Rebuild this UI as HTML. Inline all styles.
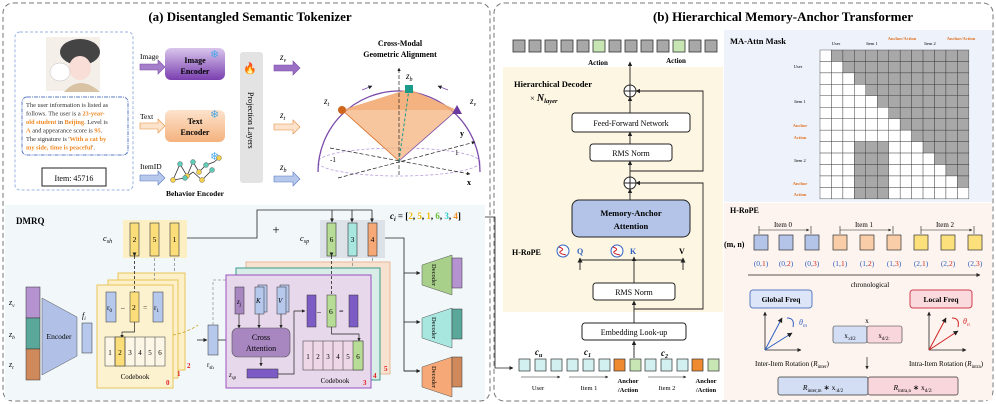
<!DOCTYPE html>
<html><head><meta charset="utf-8"><style>
body{margin:0;background:#fff}
svg{display:block;font-family:"Liberation Serif",serif}
</style></head><body>
<svg width="996" height="404" viewBox="0 0 996 404" xmlns="http://www.w3.org/2000/svg">
<defs>
<marker id="a" viewBox="0 0 10 10" refX="9" refY="5" markerWidth="5" markerHeight="5" orient="auto"><path d="M0,0L10,5L0,10z" fill="#222"/></marker>
<linearGradient id="gp" x1="0" y1="0" x2="0" y2="1"><stop offset="0" stop-color="#d9c6ec"/><stop offset="1" stop-color="#7a3fb0"/></linearGradient>
<linearGradient id="go" x1="0" y1="0" x2="0" y2="1"><stop offset="0" stop-color="#fde3cc"/><stop offset="1" stop-color="#f4b27e"/></linearGradient>
</defs>

<rect x="3" y="3" width="487" height="398" rx="10" fill="none" stroke="#777" stroke-dasharray="5,3"/>
<rect x="494" y="3" width="499" height="398" rx="10" fill="none" stroke="#777" stroke-dasharray="5,3"/>
<text x="250" y="21" font-size="13" font-weight="bold" text-anchor="middle">(a) Disentangled Semantic Tokenizer</text>
<text x="783" y="21" font-size="13" font-weight="bold" text-anchor="middle">(b) Hierarchical Memory-Anchor Transformer</text>

<rect x="15" y="32" width="118" height="158" rx="5" fill="none" stroke="#9ab3e0" stroke-dasharray="3,2"/>
<rect x="46" y="37" width="54" height="54" fill="#f4efe9"/>
<ellipse cx="80" cy="52" rx="20" ry="13" fill="#444"/>
<ellipse cx="80" cy="68" rx="11" ry="12" fill="#f8ded6"/>
<ellipse cx="60" cy="72" rx="10" ry="9" fill="#fff" stroke="#bbb" stroke-width=".5"/>
<path d="M64,92 q16,-18 36,0z" fill="#d8c3a5"/>
<rect x="22" y="97" width="106" height="58" rx="5" fill="#fff" stroke="#5b7bc4" stroke-dasharray="4,1,1,1"/>
<g font-size="6.4" fill="#333">
<text x="26" y="107">The user information is listed as</text>
<text x="26" y="115.5">follows. The user is a <tspan fill="#f08a24" font-weight="bold">23-year-</tspan></text>
<text x="26" y="124"><tspan fill="#f08a24" font-weight="bold">old student</tspan> in <tspan fill="#f08a24" font-weight="bold">Beijing</tspan>. Level is</text>
<text x="26" y="132.5"><tspan fill="#f08a24" font-weight="bold">A</tspan> and appearance score is <tspan fill="#f08a24" font-weight="bold">95</tspan>.</text>
<text x="26" y="141">The signature is '<tspan fill="#f08a24" font-weight="bold">With a cat by</tspan></text>
<text x="26" y="149.5"><tspan fill="#f08a24" font-weight="bold">my side, time is peaceful</tspan>'.</text>
</g>
<rect x="42" y="168" width="64" height="18" fill="#fff" stroke="#222"/>
<text x="74" y="181" font-size="8" text-anchor="middle">Item: 45716</text>

<g font-size="7.5">
<text x="140" y="59">Image</text><text x="140" y="119">Text</text><text x="140" y="169">ItemID</text>
</g>
<path d="M140,64h18v-4l7,7l-7,7v-4h-18z" fill="#a47ec9" stroke="#7a4aa8" stroke-width=".6"/>
<path d="M140,123h18v-4l7,7l-7,7v-4h-18z" fill="#fde3cc" stroke="#e58c3c" stroke-width=".6"/>
<path d="M140,175h18v-4l7,7l-7,7v-4h-18z" fill="#b6c8ec" stroke="#5878be" stroke-width=".6"/>
<rect x="165" y="48" width="60" height="32" rx="6" fill="url(#gp)"/>
<text x="195" y="63" font-size="8" font-weight="bold" text-anchor="middle">Image</text>
<text x="195" y="74" font-size="8" font-weight="bold" text-anchor="middle">Encoder</text>
<rect x="165" y="110" width="60" height="32" rx="6" fill="url(#go)"/>
<text x="195" y="124" font-size="8" font-weight="bold" text-anchor="middle">Text</text>
<text x="195" y="135" font-size="8" font-weight="bold" text-anchor="middle">Encoder</text>
<g font-size="11" fill="#4aa8e8"><text x="210" y="58">❄</text><text x="210" y="118">❄</text><text x="210" y="160">❄</text></g>
<polyline points="173,180 180,164 187,176 193,162 199,172 206,165 214,162 219,158" fill="none" stroke="#333" stroke-width=".8"/>
<polyline points="173,180 185,178 193,172 202,180 212,170" fill="none" stroke="#333" stroke-width=".8"/>
<g fill="#f5d04a" stroke="#555" stroke-width=".4"><circle cx="173" cy="180" r="2.5"/><circle cx="187" cy="176" r="2.5"/><circle cx="199" cy="172" r="2.5"/><circle cx="202" cy="180" r="2.5"/><circle cx="219" cy="158" r="2.5"/></g>
<g fill="#5fcbb6" stroke="#555" stroke-width=".4"><circle cx="180" cy="164" r="2.5"/><circle cx="193" cy="162" r="2.5"/><circle cx="206" cy="165" r="2.5"/><circle cx="185" cy="178" r="2.5"/><circle cx="212" cy="170" r="2.5"/></g>
<text x="195" y="196" font-size="7.5" font-weight="bold" text-anchor="middle">Behavior Encoder</text>

<rect x="240" y="52" width="23" height="131" rx="3" fill="#e3e3e3"/>
<text x="250" y="72" font-size="11" fill="#e23" text-anchor="middle">🔥</text>
<text transform="translate(248,92) rotate(90)" font-size="8">Projection    Layers</text>

<g font-size="9" font-style="italic"><text x="280" y="60">z<tspan font-size="6" dy="2">v</tspan></text><text x="280" y="118">z<tspan font-size="6" dy="2">t</tspan></text><text x="280" y="170">z<tspan font-size="6" dy="2">b</tspan></text></g>
<path d="M274,65h19v-4l7,7l-7,7v-4h-19z" fill="#9b6fc6" stroke="#7a4aa8" stroke-width=".6"/>
<path d="M274,124h19v-4l7,7l-7,7v-4h-19z" fill="#fde3cc" stroke="#e58c3c" stroke-width=".6"/>
<path d="M274,176h19v-4l7,7l-7,7v-4h-19z" fill="#b6c8ec" stroke="#5878be" stroke-width=".6"/>

<text x="400" y="46" font-size="8" font-weight="bold" text-anchor="middle">Cross-Modal</text>
<text x="400" y="57" font-size="8" font-weight="bold" text-anchor="middle">Geometric Alignment</text>
<ellipse cx="399" cy="162" rx="81" ry="14" fill="none" stroke="#b79bdc" stroke-dasharray="3,2" stroke-width=".8"/>
<path d="M318,172 A81,81 0 0 1 480,172" fill="none" stroke="#7a4aa8" stroke-width="1.3"/>
<polygon points="342,110 409,89 457,110 399,161" fill="#f4b27e" fill-opacity=".75"/>
<polygon points="342,110 409,89 457,110" fill="#f0a060" fill-opacity=".5"/>
<line x1="342" y1="110" x2="399" y2="161" stroke="#d96a20" stroke-width=".8"/>
<line x1="457" y1="110" x2="399" y2="161" stroke="#7a4aa8" stroke-width=".8"/>
<line x1="399" y1="175" x2="399" y2="68" stroke="#222" stroke-width=".7" stroke-dasharray="4,2" marker-end="url(#a)"/>
<line x1="330" y1="148" x2="470" y2="174" stroke="#222" stroke-width=".7" stroke-dasharray="4,2" marker-end="url(#a)"/>
<line x1="338" y1="178" x2="475" y2="142" stroke="#222" stroke-width=".7" stroke-dasharray="4,2" marker-end="url(#a)"/>
<line x1="399" y1="161" x2="409" y2="89" stroke="#1a9a88" stroke-width="1" stroke-dasharray="3,2"/>
<circle cx="342" cy="110" r="4" fill="#d0651c"/>
<rect x="405" y="85" width="8" height="8" fill="#1a9a88"/>
<path d="M457,105l5,9h-10z" fill="#6a3aa0"/>
<g font-size="9" font-style="italic"><text x="324" y="104">z<tspan font-size="6" dy="2">t</tspan></text><text x="470" y="104">z<tspan font-size="6" dy="2">v</tspan></text><text x="406" y="79">z<tspan font-size="6" dy="2">b</tspan></text></g>
<g font-size="8" font-weight="bold"><text x="460" y="136">y</text><text x="467" y="185">x</text></g>
<g font-size="7"><text x="330" y="162">-1</text><text x="455" y="155">1</text></g>
<path d="M362,90 l10,-4" stroke="#7a4aa8" stroke-width=".8" marker-end="url(#a)"/>
<path d="M448,90 l-10,-4" stroke="#7a4aa8" stroke-width=".8" marker-end="url(#a)"/>

<rect x="5" y="205" width="480" height="195" fill="#f2f8fa"/>
<text x="16" y="224" font-size="9" font-weight="bold">DMRQ</text>
<rect x="123" y="220" width="64" height="38" fill="#fdefc4"/>
<g fill="#fbdd7a" stroke="#333" stroke-width=".6"><rect x="130" y="223" width="9" height="33"/><rect x="150" y="223" width="9" height="33"/><rect x="170" y="223" width="9" height="33"/></g>
<g font-size="7.5" text-anchor="middle"><text x="134.5" y="242">2</text><text x="154.5" y="242">5</text><text x="174.5" y="242">1</text></g>
<text x="103" y="241" font-size="8.5" font-style="italic">c<tspan font-size="6" dy="2">sh</tspan></text>
<text x="276" y="234" font-size="13" text-anchor="middle">+</text>
<rect x="320" y="220" width="65" height="38" fill="#dde2e8"/>
<rect x="327" y="223" width="9" height="33" fill="#b6dc96" stroke="#333" stroke-width=".6"/>
<rect x="348" y="223" width="9" height="33" fill="#a8e6e0" stroke="#333" stroke-width=".6"/>
<rect x="368" y="223" width="9" height="33" fill="#f6a976" stroke="#333" stroke-width=".6"/>
<g font-size="7.5" text-anchor="middle"><text x="331.5" y="242">6</text><text x="352.5" y="242">3</text><text x="372.5" y="242">4</text></g>
<text x="300" y="241" font-size="8.5" font-style="italic">c<tspan font-size="6" dy="2">sp</tspan></text>
<polyline points="187,238 257,238 257,210 372,210" fill="none" stroke="#222" stroke-width=".8"/>
<line x1="332" y1="210" x2="332" y2="222" stroke="#222" stroke-width=".8" marker-end="url(#a)"/>
<line x1="352" y1="210" x2="352" y2="222" stroke="#222" stroke-width=".8" marker-end="url(#a)"/>
<line x1="372" y1="210" x2="372" y2="222" stroke="#222" stroke-width=".8" marker-end="url(#a)"/>
<text x="390" y="219" font-size="9" font-weight="bold"><tspan font-style="italic">c<tspan font-size="6" dy="2">i</tspan></tspan><tspan dy="-2"> = [</tspan><tspan fill="#f0b800">2</tspan>, <tspan fill="#f0b800">5</tspan>, <tspan fill="#f0b800">1</tspan>, <tspan fill="#6bbf3a">6</tspan>, <tspan fill="#3cc">3</tspan>, <tspan fill="#f08a24">4</tspan>]</text>
<polyline points="485,217 495,217 495,368 513,368" fill="none" stroke="#222" stroke-width=".8" marker-end="url(#a)"/>
<polyline points="385,238 404,238 404,371 420,371" fill="none" stroke="#222" stroke-width=".8"/>
<line x1="404" y1="273" x2="420" y2="273" stroke="#222" stroke-width=".8" marker-end="url(#a)"/>
<line x1="404" y1="322" x2="420" y2="322" stroke="#222" stroke-width=".8" marker-end="url(#a)"/>
<line x1="404" y1="371" x2="420" y2="371" stroke="#222" stroke-width=".8" marker-end="url(#a)"/>

<rect x="26" y="287" width="14" height="31" fill="#b592d0" stroke="#333" stroke-width=".5"/>
<rect x="26" y="318" width="14" height="31" fill="#5aa89a" stroke="#333" stroke-width=".5"/>
<rect x="26" y="349" width="14" height="31" fill="#d0895a" stroke="#333" stroke-width=".5"/>
<g font-size="8" font-style="italic"><text x="9" y="305">z<tspan font-size="5.5" dy="2">v</tspan></text><text x="9" y="337">z<tspan font-size="5.5" dy="2">b</tspan></text><text x="9" y="367">z<tspan font-size="5.5" dy="2">t</tspan></text></g>
<polygon points="42,298 77,317 77,356 42,375" fill="#b0c0e6" stroke="#555" stroke-width=".5"/>
<text x="59" y="339" font-size="7.5" text-anchor="middle">Encoder</text>
<text x="82" y="318" font-size="8" font-style="italic">f<tspan font-size="5.5" dy="2">i</tspan></text>
<rect x="82" y="323" width="10" height="30" fill="#b6c8ec" stroke="#333" stroke-width=".5"/>

<rect x="118" y="273" width="67" height="97" fill="#fdf0c8" stroke="#e8c45a"/>
<rect x="108" y="280" width="70" height="98" fill="#fdf0c8" stroke="#e8c45a"/>
<rect x="97" y="285" width="76" height="103" fill="#fdf2d0" stroke="#e8c45a"/>
<g font-size="7" font-weight="bold" fill="#e02020"><text x="166" y="385">0</text><text x="177" y="376">1</text><text x="187" y="368">2</text></g>
<rect x="106" y="292" width="10" height="30" fill="#b6c8ec" stroke="#333" stroke-width=".5"/>
<rect x="130" y="292" width="9" height="30" fill="#fbdd7a" stroke="#333" stroke-width=".5"/>
<rect x="153" y="292" width="10" height="30" fill="#b6c8ec" stroke="#333" stroke-width=".5"/>
<g font-size="7.5"><text x="107" y="310">r<tspan font-size="5" dy="2">0</tspan></text><text x="121" y="310">–</text><text x="132" y="310">2</text><text x="143" y="310">=</text><text x="154" y="310">r<tspan font-size="5" dy="2">1</tspan></text></g>
<line x1="134.5" y1="256" x2="134.5" y2="292" stroke="#222" stroke-width=".8" stroke-dasharray="3,2" marker-start="url(#a)"/>
<line x1="154.5" y1="258" x2="154.5" y2="280" stroke="#888" stroke-width=".8" stroke-dasharray="3,2"/>
<line x1="174.5" y1="258" x2="174.5" y2="273" stroke="#888" stroke-width=".8" stroke-dasharray="3,2"/>
<polyline points="134.5,322 134.5,332 122,332 122,338" fill="none" stroke="#222" stroke-width=".7" marker-end="url(#a)"/>
<g stroke="#333" stroke-width=".5"><rect x="105" y="337" width="60" height="29" fill="#fbf6e6"/><rect x="115" y="337" width="10" height="29" fill="#fbdd7a"/></g>
<g stroke="#333" stroke-width=".5"><line x1="115" y1="337" x2="115" y2="366"/><line x1="125" y1="337" x2="125" y2="366"/><line x1="135" y1="337" x2="135" y2="366"/><line x1="145" y1="337" x2="145" y2="366"/><line x1="155" y1="337" x2="155" y2="366"/></g>
<g font-size="7" text-anchor="middle"><text x="110" y="355">1</text><text x="120" y="355">2</text><text x="130" y="355">3</text><text x="140" y="355">4</text><text x="150" y="355">5</text><text x="160" y="355">6</text></g>
<text x="135" y="379" font-size="7" text-anchor="middle">Codebook</text>
<path d="M173,335 q15,-3 25,-10" fill="none" stroke="#c8a020" stroke-dasharray="3,2" stroke-width=".8"/>
<line x1="197" y1="340" x2="207" y2="340" stroke="#222" stroke-width=".8" marker-end="url(#a)"/>
<rect x="208" y="325" width="10" height="30" fill="#b6c8ec" stroke="#333" stroke-width=".5"/>
<text x="207" y="367" font-size="7">r<tspan font-size="5" dy="2">sh</tspan></text>
<polyline points="213,325 213,280 283,280 283,285" fill="none" stroke="#999" stroke-dasharray="3,2" stroke-width=".8"/>
<line x1="218" y1="340" x2="231" y2="340" stroke="#222" stroke-width=".8" marker-end="url(#a)"/>

<rect x="246" y="262" width="144" height="112" fill="#f6e2cf" stroke="#e8b898"/>
<rect x="236" y="268" width="144" height="112" fill="#d8ece8" stroke="#3a9a8a"/>
<rect x="226" y="275" width="145" height="113" fill="#e8d8ec" stroke="#9a50c0"/>
<g font-size="7" font-weight="bold" fill="#e02020"><text x="363" y="385">3</text><text x="373" y="378">4</text><text x="384" y="371">5</text></g>
<rect x="235" y="287" width="9" height="27" fill="#a886c0" stroke="#333" stroke-width=".5"/>
<text x="237" y="304" font-size="7" font-style="italic">z<tspan font-size="5" dy="2">j</tspan></text>
<rect x="258" y="285" width="9" height="27" fill="#b6c8ec" stroke="#333" stroke-width=".5"/>
<rect x="255" y="287" width="9" height="27" fill="#b6c8ec" stroke="#333" stroke-width=".5"/>
<rect x="280" y="285" width="9" height="27" fill="#b6c8ec" stroke="#333" stroke-width=".5"/>
<rect x="277" y="287" width="9" height="27" fill="#b6c8ec" stroke="#333" stroke-width=".5"/>
<text x="256" y="303" font-size="7" font-style="italic">K</text><text x="278" y="303" font-size="7" font-style="italic">V</text>
<line x1="239" y1="314" x2="239" y2="328" stroke="#222" stroke-width=".7" marker-end="url(#a)"/>
<line x1="259" y1="314" x2="259" y2="328" stroke="#222" stroke-width=".7" marker-end="url(#a)"/>
<line x1="281" y1="314" x2="281" y2="328" stroke="#222" stroke-width=".7" marker-end="url(#a)"/>
<rect x="232" y="328" width="58" height="29" rx="6" fill="#a886c0" stroke="#555" stroke-width=".6"/>
<text x="261" y="340" font-size="8" text-anchor="middle">Cross</text>
<text x="261" y="351" font-size="8" text-anchor="middle">Attention</text>
<line x1="261" y1="357" x2="261" y2="366" stroke="#222" stroke-width=".7" marker-end="url(#a)"/>
<text x="229" y="377" font-size="7" font-style="italic">z<tspan font-size="5" dy="2">sp</tspan></text>
<rect x="247" y="369" width="31" height="9" fill="#7c5cc4" stroke="#333" stroke-width=".5"/>
<polyline points="278,374 294,374 294,311 305,311" fill="none" stroke="#222" stroke-width=".7" marker-end="url(#a)"/>
<rect x="307" y="295" width="9" height="32" fill="#7c5cc4" stroke="#333" stroke-width=".5"/>
<text x="317" y="314" font-size="8">–</text>
<rect x="327" y="295" width="9" height="32" fill="#b6dc96" stroke="#333" stroke-width=".5"/>
<text x="329" y="314" font-size="7.5">6</text>
<text x="339" y="314" font-size="8">=</text>
<rect x="349" y="295" width="9" height="32" fill="#7c5cc4" stroke="#333" stroke-width=".5"/>
<line x1="331.5" y1="256" x2="331.5" y2="295" stroke="#222" stroke-width=".8" stroke-dasharray="3,2" marker-start="url(#a)"/>
<line x1="352.5" y1="258" x2="352.5" y2="268" stroke="#888" stroke-width=".8" stroke-dasharray="3,2"/>
<line x1="372.5" y1="258" x2="372.5" y2="262" stroke="#888" stroke-width=".8" stroke-dasharray="3,2"/>
<polyline points="331.5,327 331.5,334 359,334 359,341" fill="none" stroke="#222" stroke-width=".7" marker-end="url(#a)"/>
<g stroke="#333" stroke-width=".5"><rect x="303" y="341" width="60" height="29" fill="#eed8e8"/><rect x="353" y="341" width="10" height="29" fill="#b6dc96"/>
<line x1="313" y1="341" x2="313" y2="370"/><line x1="323" y1="341" x2="323" y2="370"/><line x1="333" y1="341" x2="333" y2="370"/><line x1="343" y1="341" x2="343" y2="370"/></g>
<g font-size="7" text-anchor="middle"><text x="308" y="359">1</text><text x="318" y="359">2</text><text x="328" y="359">3</text><text x="338" y="359">4</text><text x="348" y="359">5</text><text x="358" y="359">6</text></g>
<text x="335" y="383" font-size="7" text-anchor="middle">Codebook</text>

<polygon points="422,265 452,255 452,295 422,285" fill="#a8d08a" stroke="#555" stroke-width=".5"/>
<polygon points="422,318 452,308 452,348 422,338" fill="#a8e6e0" stroke="#555" stroke-width=".5"/>
<polygon points="422,367 452,357 452,397 422,387" fill="#f6a976" stroke="#555" stroke-width=".5"/>
<g font-size="6.5"><text transform="translate(432,264) rotate(90)">Decoder</text><text transform="translate(432,317) rotate(90)">Decoder</text><text transform="translate(432,366) rotate(90)">Decoder</text></g>
<rect x="452" y="258" width="10" height="30" fill="#b592d0" stroke="#333" stroke-width=".5"/>
<rect x="452" y="309" width="10" height="30" fill="#5aa89a" stroke="#333" stroke-width=".5"/>
<rect x="452" y="357" width="10" height="30" fill="#d0895a" stroke="#333" stroke-width=".5"/>

<g stroke="#333" stroke-width=".8" fill="#a8a8a8">
<rect x="513" y="40" width="12" height="12"/><rect x="529" y="40" width="12" height="12"/><rect x="545" y="40" width="12" height="12"/><rect x="561" y="40" width="12" height="12"/><rect x="577" y="40" width="12" height="12"/><rect x="593" y="40" width="12" height="12" fill="#c8e6b4"/><rect x="609" y="40" width="12" height="12"/><rect x="625" y="40" width="12" height="12"/><rect x="641" y="40" width="12" height="12"/><rect x="657" y="40" width="12" height="12"/><rect x="673" y="40" width="12" height="12" fill="#c8e6b4"/><rect x="689" y="40" width="12" height="12"/><rect x="705" y="40" width="12" height="12"/>
</g>
<g font-size="7" font-weight="bold" text-anchor="middle"><text x="598" y="65">Action</text><text x="676" y="63">Action</text></g>
<rect x="503" y="67" width="220" height="245" fill="#fdf6e2"/>
<text x="514" y="87" font-size="8.5" font-weight="bold">Hierarchical Decoder</text>
<text x="530" y="101" font-size="8.5">× <tspan font-weight="bold" font-style="italic" font-size="10">N<tspan font-size="6.5" dy="2">layer</tspan></tspan></text>
<line x1="630" y1="85" x2="630" y2="62" stroke="#222" stroke-width=".9" marker-end="url(#a)"/>
<circle cx="630" cy="91" r="6" fill="#fff" stroke="#222"/><path d="M624,91h12M630,85v12" stroke="#222"/>
<circle cx="630" cy="183" r="6" fill="#fff" stroke="#222"/><path d="M624,183h12M630,177v12" stroke="#222"/>
<line x1="630" y1="113" x2="630" y2="97" stroke="#222" stroke-width=".9" marker-end="url(#a)"/>
<line x1="630" y1="144" x2="630" y2="132" stroke="#222" stroke-width=".9" marker-end="url(#a)"/>
<line x1="630" y1="177" x2="630" y2="161" stroke="#222" stroke-width=".9" marker-end="url(#a)"/>
<line x1="630" y1="200" x2="630" y2="189" stroke="#222" stroke-width=".9" marker-end="url(#a)"/>
<polyline points="630,171 703,171 703,91 636,91" fill="none" stroke="#222" stroke-width=".9" marker-end="url(#a)"/>
<polyline points="634,309 703,309 703,183 636,183" fill="none" stroke="#222" stroke-width=".9" marker-end="url(#a)"/>
<rect x="572" y="113" width="118" height="19" rx="3" fill="#fff" stroke="#222"/>
<text x="631" y="126" font-size="8" text-anchor="middle">Feed-Forward Network</text>
<rect x="590" y="144" width="82" height="17" rx="3" fill="#fff" stroke="#222"/>
<text x="631" y="156" font-size="8" text-anchor="middle">RMS Norm</text>
<rect x="572" y="200" width="118" height="37" rx="7" fill="#b3c4e8" stroke="#222"/>
<text x="631" y="216" font-size="8.5" font-weight="bold" text-anchor="middle">Memory-Anchor</text>
<text x="631" y="229" font-size="8.5" font-weight="bold" text-anchor="middle">Attention</text>
<text x="512" y="255" font-size="8" font-weight="bold">H-RoPE</text>
<circle cx="563" cy="251" r="6" fill="#fff" stroke="#3060c0"/><path d="M559,247q6,2 2,4t5,4" stroke="#d02020" fill="none"/>
<circle cx="617" cy="251" r="6" fill="#fff" stroke="#3060c0"/><path d="M613,247q6,2 2,4t5,4" stroke="#d02020" fill="none"/>
<g font-size="8" font-weight="bold"><text x="577" y="254" fill="#3060c0">Q</text><text x="630" y="254" fill="#3060c0">K</text><text x="679" y="254">V</text></g>
<polyline points="580,270 580,260 683,260 683,270" fill="none" stroke="#222" stroke-width=".9"/>
<line x1="580" y1="263" x2="580" y2="258" stroke="#222" marker-end="url(#a)"/>
<line x1="634" y1="283" x2="634" y2="257" stroke="#222" stroke-width=".9" marker-end="url(#a)"/>
<line x1="683" y1="263" x2="683" y2="258" stroke="#222" marker-end="url(#a)"/>
<rect x="593" y="283" width="82" height="17" rx="3" fill="#fff" stroke="#222"/>
<text x="634" y="295" font-size="8" text-anchor="middle">RMS Norm</text>
<line x1="634" y1="323" x2="634" y2="301" stroke="#222" stroke-width=".9" marker-end="url(#a)"/>
<rect x="582" y="323" width="104" height="17" rx="3" fill="#fff" stroke="#222"/>
<text x="634" y="335" font-size="8" text-anchor="middle">Embedding Look-up</text>
<line x1="634" y1="358" x2="634" y2="341" stroke="#222" stroke-width=".9" marker-end="url(#a)"/>
<g stroke="#333" stroke-width=".7" fill="#d2f0f0">
<rect x="519" y="359" width="11" height="12"/><rect x="535" y="359" width="11" height="12"/><rect x="551" y="359" width="11" height="12"/><rect x="567" y="359" width="11" height="12"/><rect x="583" y="359" width="11" height="12"/><rect x="599" y="359" width="11" height="12"/><rect x="614" y="359" width="11" height="12" fill="#f08a30"/><rect x="630" y="359" width="11" height="12" fill="#c8e6b4"/><rect x="645" y="359" width="11" height="12"/><rect x="661" y="359" width="11" height="12"/><rect x="677" y="359" width="11" height="12"/><rect x="692" y="359" width="11" height="12" fill="#f08a30"/><rect x="708" y="359" width="11" height="12" fill="#c8e6b4"/>
</g>
<g font-size="9" font-weight="bold" font-style="italic"><text x="535" y="355">c<tspan font-size="6" dy="2">u</tspan></text><text x="584" y="355">c<tspan font-size="6" dy="2">1</tspan></text><text x="661" y="356">c<tspan font-size="6" dy="2">2</tspan></text></g>
<g stroke="#222" stroke-width=".6"><line x1="521" y1="377" x2="560" y2="377" marker-end="url(#a)"/><line x1="569" y1="377" x2="608" y2="377" marker-end="url(#a)"/><line x1="648" y1="377" x2="686" y2="377" marker-end="url(#a)"/></g>
<g font-size="6.5" text-anchor="middle"><text x="538" y="390">User</text><text x="589" y="390">Item 1</text><text x="667" y="390">Item 2</text></g>
<g font-size="6.5" font-weight="bold" text-anchor="middle"><text x="628" y="383">Anchor</text><text x="628" y="392">/Action</text><text x="706" y="383">Anchor</text><text x="706" y="392">/Action</text></g>

<rect x="724" y="30" width="268" height="172" fill="#eef3fb"/>
<text x="730" y="44" font-size="8.5" font-weight="bold">MA-Attn Mask</text>
<g font-size="4.5" text-anchor="middle"><text x="836" y="45">User</text><text x="872" y="45">Item 1</text><text x="930" y="45">Item 2</text><text x="798" y="68">User</text><text x="800" y="103">Item 1</text><text x="800" y="162">Item 2</text></g>
<g font-size="4.5" font-weight="bold" fill="#e07020" text-anchor="middle"><text x="902" y="40">Anchor/Action</text><text x="961" y="40">Anchor/Action</text><text x="800" y="127">Anchor</text><text x="800" y="139">Action</text><text x="800" y="185">Anchor</text><text x="800" y="196">Action</text></g>

<rect x="724" y="203" width="268" height="197" fill="#fdf4ef"/>
<text x="730" y="213" font-size="8" font-weight="bold">H-RoPE</text>
<text x="724" y="247" font-size="8" font-weight="bold">(m, n)</text>
<g stroke="#333" stroke-width=".7">
<rect x="754" y="235" width="14" height="15" fill="#b3c4e8"/><rect x="779" y="235" width="14" height="15" fill="#b3c4e8"/><rect x="805" y="235" width="14" height="15" fill="#b3c4e8"/>
<rect x="833" y="235" width="14" height="15" fill="#f8cda8"/><rect x="860" y="235" width="14" height="15" fill="#f8cda8"/><rect x="887" y="235" width="14" height="15" fill="#f8cda8"/>
<rect x="914" y="235" width="14" height="15" fill="#fbe07c"/><rect x="941" y="235" width="14" height="15" fill="#fbe07c"/><rect x="968" y="235" width="14" height="15" fill="#fbe07c"/>
</g>
<g stroke="#222" stroke-width=".6"><path d="M759,226v8M811,226v8M840,226v8M893,226v8M921,226v8M974,226v8"/>
<line x1="759" y1="230" x2="809" y2="230" marker-end="url(#a)"/><line x1="840" y1="230" x2="891" y2="230" marker-end="url(#a)"/><line x1="921" y1="230" x2="972" y2="230" marker-end="url(#a)"/></g>
<g font-size="7" text-anchor="middle"><text x="783" y="227">Item 0</text><text x="864" y="227">Item 1</text><text x="945" y="227">Item 2</text></g>
<g font-size="7.5" text-anchor="middle" fill="#3060c0">
<text x="761" y="266">(0,<tspan fill="#d02020">1</tspan>)</text><text x="786" y="266">(0,<tspan fill="#d02020">2</tspan>)</text><text x="812" y="266">(0,<tspan fill="#d02020">3</tspan>)</text>
<text x="840" y="266">(1,<tspan fill="#d02020">1</tspan>)</text><text x="867" y="266">(1,<tspan fill="#d02020">2</tspan>)</text><text x="894" y="266">(1,<tspan fill="#d02020">3</tspan>)</text>
<text x="921" y="266">(2,<tspan fill="#d02020">1</tspan>)</text><text x="948" y="266">(2,<tspan fill="#d02020">2</tspan>)</text><text x="975" y="266">(2,<tspan fill="#d02020">3</tspan>)</text></g>
<line x1="748" y1="275" x2="980" y2="275" stroke="#222" stroke-width=".8" marker-end="url(#a)"/>
<text x="870" y="287" font-size="7" text-anchor="middle">chronological</text>
<rect x="750" y="290" width="62" height="18" rx="3" fill="#dce6f8" stroke="#5b7bc4"/>
<text x="781" y="302" font-size="7.5" font-weight="bold" text-anchor="middle">Global Freq</text>
<rect x="910" y="290" width="62" height="18" rx="3" fill="#fadadd" stroke="#d04050"/>
<text x="941" y="302" font-size="7.5" font-weight="bold" text-anchor="middle">Local Freq</text>
<g stroke="#222" stroke-width=".8"><line x1="765" y1="350" x2="765" y2="312" marker-end="url(#a)"/><line x1="765" y1="350" x2="801" y2="350" marker-end="url(#a)"/>
<line x1="929" y1="350" x2="929" y2="312" marker-end="url(#a)"/><line x1="929" y1="350" x2="966" y2="350" marker-end="url(#a)"/></g>
<g stroke="#3060c0" stroke-width="1"><line x1="765" y1="350" x2="782" y2="318" marker-end="url(#a)"/><line x1="765" y1="350" x2="792" y2="333" marker-end="url(#a)"/></g>
<g stroke="#d02020" stroke-width="1"><line x1="929" y1="350" x2="946" y2="318" marker-end="url(#a)"/><line x1="929" y1="350" x2="958" y2="331" marker-end="url(#a)"/></g>
<path d="M787,318q8,0 6,9" fill="none" stroke="#3060c0"/><path d="M952,318q8,0 6,9" fill="none" stroke="#d02020"/>
<text x="799" y="325" font-size="8" font-style="italic" fill="#3060c0">θ<tspan font-size="5.5" dy="2">m</tspan></text>
<text x="963" y="324" font-size="8" font-style="italic" fill="#d02020">θ<tspan font-size="5.5" dy="2">n</tspan></text>
<text x="867" y="323" font-size="7.5" text-anchor="middle">x</text>
<rect x="833" y="326" width="34" height="17" rx="2" fill="#d3def5" stroke="#333" stroke-width=".6"/>
<rect x="867" y="326" width="35" height="17" rx="2" fill="#f8d6dc" stroke="#333" stroke-width=".6"/>
<text x="850" y="338" font-size="7" text-anchor="middle">x<tspan font-size="5" dy="2">:d/2</tspan></text>
<text x="884" y="338" font-size="7" text-anchor="middle">x<tspan font-size="5" dy="2">d/2:</tspan></text>
<line x1="867" y1="357" x2="867" y2="369" stroke="#222" stroke-width=".7" marker-end="url(#a)"/>
<text x="792" y="366" font-size="7" text-anchor="middle">Inter-Item Rotation (<tspan font-style="italic">R</tspan><tspan font-size="5" dy="2">inter</tspan><tspan dy="-2">)</tspan></text>
<text x="946" y="366" font-size="7" text-anchor="middle">Intra-Item Rotation (<tspan font-style="italic">R</tspan><tspan font-size="5" dy="2">intra</tspan><tspan dy="-2">)</tspan></text>
<rect x="778" y="377" width="90" height="18" rx="2" fill="#d3def5" stroke="#333" stroke-width=".7"/>
<rect x="868" y="377" width="90" height="18" rx="2" fill="#f8d6dc" stroke="#333" stroke-width=".7"/>
<text x="823" y="390" font-size="7.5" text-anchor="middle"><tspan font-style="italic">R</tspan><tspan font-size="5" dy="2">inter,m</tspan><tspan dy="-2"> ∗ x</tspan><tspan font-size="5" dy="2">:d/2</tspan></text>
<text x="913" y="390" font-size="7.5" text-anchor="middle"><tspan font-style="italic">R</tspan><tspan font-size="5" dy="2">intra,n</tspan><tspan dy="-2"> ∗ x</tspan><tspan font-size="5" dy="2">d/2:</tspan></text>

<g id="mg"></g>
</svg>
<script>
var ns="http://www.w3.org/2000/svg",g=document.getElementById("mg"),c=11.45,x0=820,y0=50;
for(var i=0;i<13;i++)for(var j=0;j<13;j++){var r=document.createElementNS(ns,"rect");
var gray=j>i||(i>=8&&j>=3&&j<=5);r.setAttribute("x",x0+j*c);r.setAttribute("y",y0+i*c);r.setAttribute("width",c);r.setAttribute("height",c);
r.setAttribute("fill",gray?"#a8a8a8":"#fff");r.setAttribute("stroke","#333");r.setAttribute("stroke-width",".4");g.appendChild(r);}
</script>
</body></html>
